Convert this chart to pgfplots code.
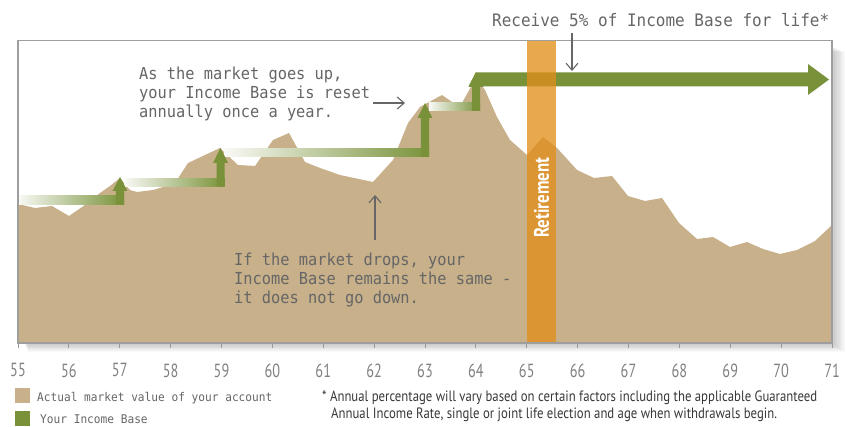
\documentclass[border=0pt]{standalone}
\usepackage{fontspec}
\usepackage{pgfplots}
\pgfplotsset{compat=1.18}
\usetikzlibrary{arrows.meta}
\newfontfamily\monof[FakeStretch=0.93]{DejaVu Sans Mono}
\newfontfamily\condf[FakeStretch=0.8]{PT Sans}
\newfontfamily\footf[FakeStretch=0.85]{PT Sans}
\newfontfamily\tickf[FakeStretch=0.75]{PT Sans}
\definecolor{mktan}{RGB}{199,176,138}
\definecolor{ibgreen}{RGB}{121,146,57}
\definecolor{retor}{RGB}{226,142,26}
\definecolor{txtgray}{RGB}{102,102,102}
\definecolor{footgray}{RGB}{55,55,55}
\begin{document}
\begin{tikzpicture}
\begin{scope}[x=1bp,y=1bp]
\path[use as bounding box] (0,0) rectangle (847,426);
\foreach \i in {1,...,10} {
  \fill[black,opacity=0.022] (24+\i*0.4,83-\i*0.9) rectangle (832+\i*1.3,380-\i*0.6);
}
\end{scope}
\begin{axis}[
  at={(18bp,83bp)}, anchor=south west,
  scale only axis, width=814bp, height=302.5bp,
  xmin=55, xmax=71, ymin=0, ymax=302.5,
  axis background/.style={fill=white},
  axis on top,
  axis line style={draw=black!38, line width=1.3bp},
  xtick={55,...,71}, ytick=\empty,
  xtick pos=bottom, tick align=outside, major tick length=5bp,
  tick style={draw=black!40, line width=0.8bp},
  xticklabel style={font=\tickf\fontsize{19bp}{19bp}\selectfont, text=black!50, yshift=-12bp},
  /pgf/number format/assume math mode=true,
]
% actual market value
\addplot[draw=none, fill=mktan] coordinates {
(55.000,139) (55.334,135) (55.668,137) (56.002,127) (56.317,138) (56.612,150)
(56.808,157) (57.005,165) (57.201,153) (57.339,151) (57.654,153) (57.988,158)
(58.125,163) (58.342,180) (58.971,195) (59.324,178) (59.659,177) (60.012,203)
(60.327,210) (60.641,181) (60.936,175) (61.329,168) (61.978,161) (62.371,183)
(62.666,220) (62.902,236) (63.334,248) (63.531,241) (63.727,240) (64.002,265)
(64.179,253) (64.415,226) (64.670,203) (65.005,188) (65.319,206) (65.595,195)
(65.988,173) (66.322,165) (66.676,167) (66.990,147) (67.324,142) (67.658,145)
(67.992,120) (68.346,104) (68.661,106) (68.995,96) (69.329,101) (69.644,94)
(69.978,89) (70.312,93) (70.666,102) (71.000,118)
} \closedcycle;
% income base: gradient bands
\addplot[draw=none, left color=ibgreen!5!white, right color=ibgreen] coordinates {(55,139) (57.084,139) (57.084,147) (55,147)} -- cycle;
\addplot[draw=none, left color=ibgreen!5!white, right color=ibgreen] coordinates {(57.084,156.5) (59.059,156.5) (59.059,164.5) (57.084,164.5)} -- cycle;
\addplot[draw=none, left color=ibgreen!5!white, right color=ibgreen] coordinates {(59.059,186) (63.079,186) (63.079,194) (59.059,194)} -- cycle;
\addplot[draw=none, left color=ibgreen!5!white, right color=ibgreen] coordinates {(63.079,232) (64.081,232) (64.081,240) (63.079,240)} -- cycle;
% income base: reset arrows
\addplot[draw=none, fill=ibgreen] coordinates {(56.926,139) (57.084,139) (57.084,152) (57.152,152) (57.005,166) (56.857,152) (56.926,152)} -- cycle;
\addplot[draw=none, fill=ibgreen] coordinates {(58.902,156.5) (59.059,156.5) (59.059,180) (59.128,180) (58.980,195) (58.833,180) (58.902,180)} -- cycle;
\addplot[draw=none, fill=ibgreen] coordinates {(62.921,186) (63.079,186) (63.079,225) (63.147,225) (63.000,240) (62.853,225) (62.921,225)} -- cycle;
\addplot[draw=none, fill=ibgreen] coordinates {(63.924,232) (64.081,232) (64.081,256) (64.150,256) (64.002,271) (63.855,256) (63.924,256)} -- cycle;
\addplot[draw=none, fill=ibgreen] coordinates {(63.855,256.5) (64.002,270.5) (70.528,270.5) (70.528,279) (70.941,263.5) (70.528,248) (70.528,256.5)} -- cycle;
% retirement bar
\addplot[draw=none, fill=retor, fill opacity=0.77] coordinates {(65.005,0) (65.575,0) (65.575,302.5) (65.005,302.5)} -- cycle;
\node[rotate=90, text=white, inner sep=0, font=\condf\bfseries\fontsize{21bp}{21bp}\selectfont] at (axis cs:65.29,145.5) {Retirement};
\end{axis}
\begin{scope}[x=1bp,y=1bp, every node/.style={anchor=base west, inner sep=0, text=txtgray}]
\node[font=\monof\fontsize{16.5bp}{19bp}\selectfont] at (139,347) {As the market goes up,};
\node[font=\monof\fontsize{16.5bp}{19bp}\selectfont] at (139,328) {your Income Base is reset};
\node[font=\monof\fontsize{16.5bp}{19bp}\selectfont] at (139,309) {annually once a year.};
\node[font=\monof\fontsize{16.5bp}{19bp}\selectfont] at (234,161) {If the market drops, your};
\node[font=\monof\fontsize{16.5bp}{19bp}\selectfont] at (234,142) {Income Base remains the same -};
\node[font=\monof\fontsize{16.5bp}{19bp}\selectfont] at (234,123) {it does not go down.};
\node[font=\monof\fontsize{17.2bp}{19bp}\selectfont] at (492,399) {Receive 5\% of Income Base for life*};
\draw[txtgray, line width=1.1bp, -{Straight Barb[length=7bp,width=12bp,line width=1.1bp]}] (373,323) -- (405,323);
\draw[txtgray, line width=1.1bp, -{Straight Barb[length=7bp,width=12bp,line width=1.1bp]}] (375,186) -- (375,231);
\draw[txtgray, line width=1.1bp, -{Straight Barb[length=7bp,width=12bp,line width=1.1bp]}] (572,393) -- (572,355);
% legend
\fill[mktan] (15,23) rectangle (30,38);
\fill[ibgreen] (15,0) rectangle (30,15);
\node[font=\monof\fontsize{12bp}{14bp}\selectfont] at (37,25) {Actual market value of your account};
\node[font=\monof\fontsize{12bp}{14bp}\selectfont] at (40,3) {Your Income Base};
% footnote
\node[text=footgray, font=\footf\fontsize{15bp}{17bp}\selectfont] at (322,25) {* Annual percentage will vary based on certain factors including the applicable Guaranteed};
\node[text=footgray, font=\footf\fontsize{15bp}{17bp}\selectfont] at (331,8) {Annual Income Rate, single or joint life election and age when withdrawals begin.};
\end{scope}
\end{tikzpicture}
\end{document}
